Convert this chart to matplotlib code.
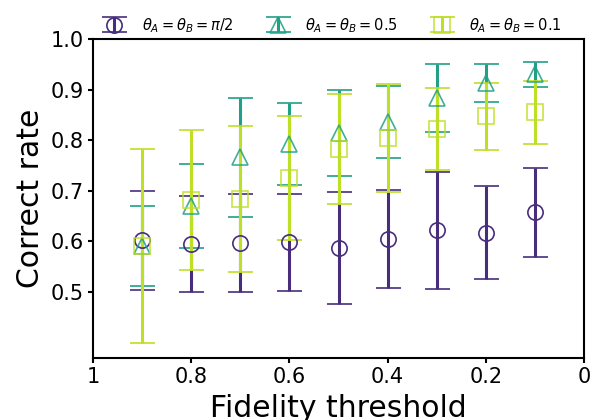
import numpy as np
import matplotlib
matplotlib.use("Agg")
import matplotlib.pyplot as plt

thresholds = [0.9, 0.8, 0.7, 0.6, 0.5, 0.4, 0.3, 0.2, 0.1]

mean_pi2 = [0.602, 0.595, 0.597, 0.598, 0.587, 0.605, 0.622, 0.617, 0.658]
err_pi2 = [0.098, 0.095, 0.097, 0.096, 0.110, 0.096, 0.115, 0.092, 0.088]

mean_05 = [0.591, 0.670, 0.766, 0.792, 0.814, 0.836, 0.883, 0.913, 0.930]
err_05 = [0.079, 0.083, 0.117, 0.081, 0.085, 0.071, 0.067, 0.037, 0.024]

mean_01 = [0.591, 0.682, 0.684, 0.725, 0.783, 0.804, 0.823, 0.847, 0.855]
err_01 = [0.192, 0.138, 0.144, 0.123, 0.108, 0.107, 0.081, 0.066, 0.063]

labels = [r'$\theta_A=\theta_B=\pi/2$', r'$\theta_A=\theta_B=0.5$', r'$\theta_A=\theta_B=0.1$']
colors = ['#472d7b', '#21a087', '#bddf26']
markers = ['o', '^', 's']

fig = plt.figure(figsize=(5.96, 4.2), dpi=100)
ax = fig.add_axes([0.156, 0.148, 0.824, 0.759])

series = [(mean_pi2, err_pi2), (mean_05, err_05), (mean_01, err_01)]
handles = []
for (m, e), lab, c, mk in zip(series, labels, colors, markers):
    rgba = matplotlib.colors.to_rgba(c, 0.85 if mk != 'o' else 1.0)
    h = ax.errorbar(thresholds, m, yerr=e, fmt=mk, color=c, ecolor=c,
                    markerfacecolor='none', markeredgecolor=rgba,
                    markersize=11, markeredgewidth=1.2,
                    elinewidth=2.2, capsize=9, capthick=2.2, label=lab)
    handles.append(h)

ax.set_xlim(1, 0)
ax.set_ylim(0.37, 1.0)
ax.set_xticks([1, 0.8, 0.6, 0.4, 0.2, 0])
ax.set_xticklabels(['1', '0.8', '0.6', '0.4', '0.2', '0'])
ax.set_yticks([0.5, 0.6, 0.7, 0.8, 0.9, 1.0])
ax.set_yticklabels(['0.5', '0.6', '0.7', '0.8', '0.9', '1.0'])
ax.tick_params(labelsize=15, width=1.5, length=3.5, pad=3)
for s in ax.spines.values():
    s.set_linewidth(1.5)
ax.set_xlabel('Fidelity threshold', fontsize=21.5, labelpad=5)
ax.set_ylabel('Correct rate', fontsize=21.5, labelpad=4)

fig.legend(handles=handles, labels=labels, loc='center', bbox_to_anchor=(0.555, 0.94),
           ncol=3, frameon=False, fontsize=10.5, columnspacing=2.0, markerscale=1.0,
           handletextpad=0.9)

fig.savefig('out.png', dpi=100)
